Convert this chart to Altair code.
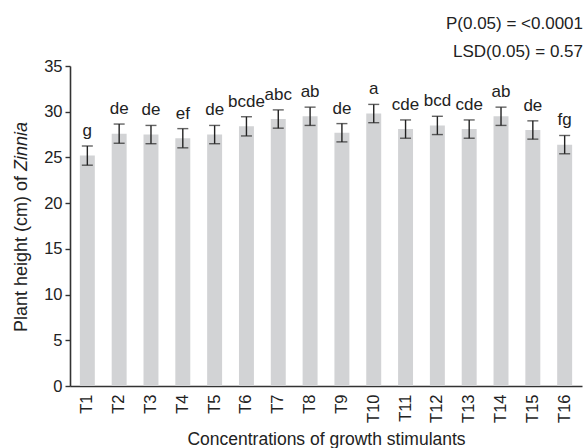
import altair as alt
import pandas as pd

treatments = [f"T{i}" for i in range(1, 17)]
means = [25.2, 27.6, 27.5, 27.1, 27.5, 28.4, 29.2, 29.5, 27.7, 29.8, 28.1, 28.5, 28.1, 29.5, 28.0, 26.4]
errors = [1.05, 1.05, 1.0, 1.05, 1.0, 1.05, 1.0, 1.0, 1.0, 1.0, 1.0, 1.0, 1.0, 1.0, 1.0, 1.0]
letters = ["g", "de", "de", "ef", "de", "bcde", "abc", "ab", "de", "a", "cde", "bcd", "cde", "ab", "de", "fg"]
y_ticks = [0, 5, 10, 15, 20, 25, 30, 35]

FONT = "Liberation Sans"
INK = "#222222"

df = pd.DataFrame({
    "t": treatments,
    "mean": means,
    "lo": [m - e for m, e in zip(means, errors)],
    "hi": [m + e for m, e in zip(means, errors)],
    "letter": letters,
})

x = alt.X("t:N", sort=treatments, title="Concentrations of growth stimulants",
          scale=alt.Scale(paddingInner=0.53, paddingOuter=0.31),
          axis=alt.Axis(labelAngle=-90, ticks=False, labelPadding=8, labelFontSize=16.5,
                        labelColor=INK, labelFont=FONT, titleFont=FONT, titleFontSize=17.5,
                        titleFontWeight="normal", titleColor=INK, titlePadding=8,
                        domainColor="#333", domainWidth=1.6, labelBaseline="middle", labelAlign="right"))
y = alt.Y("mean:Q", title=None,
          scale=alt.Scale(domain=[0, 35], nice=False),
          axis=alt.Axis(values=y_ticks, grid=False, tickSize=5, tickColor="#333", tickWidth=1.4,
                        domainColor="#333", domainWidth=1.6, labelFontSize=16.5, labelFont=FONT,
                        labelColor=INK, labelPadding=3))

base = alt.Chart(df)
bars = base.mark_bar(color="#d2d3d5").encode(x=x, y=y)
rules = base.mark_rule(color=INK, strokeWidth=1.4).encode(x=alt.X("t:N", sort=treatments), y="lo:Q", y2="hi:Q")
cap_lo = base.mark_tick(color=INK, thickness=1.4, size=11, orient="horizontal").encode(x=alt.X("t:N", sort=treatments), y="lo:Q")
cap_hi = base.mark_tick(color=INK, thickness=1.4, size=11, orient="horizontal").encode(x=alt.X("t:N", sort=treatments), y="hi:Q")
labels = base.mark_text(font=FONT, fontSize=17, color=INK, baseline="alphabetic", dy=-10).encode(
    x=alt.X("t:N", sort=treatments), y="hi:Q", text="letter:N")

ann = pd.DataFrame({"txt": ["P(0.05) = <0.0001", "LSD(0.05) = 0.57"], "row": [0, 1]})
ann1 = alt.Chart(ann).transform_filter("datum.row == 0").mark_text(
    font=FONT, fontSize=17, color=INK, align="right", baseline="alphabetic"
).encode(x=alt.value(513), y=alt.value(-37), text="txt:N")
ann2 = alt.Chart(ann).transform_filter("datum.row == 1").mark_text(
    font=FONT, fontSize=17, color=INK, align="right", baseline="alphabetic"
).encode(x=alt.value(513), y=alt.value(-9), text="txt:N")

yt = pd.DataFrame({"a": ["Plant height (cm) of "], "b": ["Zinnia"]})
yt1 = alt.Chart(yt).mark_text(font=FONT, fontSize=18, color=INK, align="left", baseline="middle", angle=270).encode(
    x=alt.value(-48), y=alt.value(266), text="a:N")
yt2 = alt.Chart(yt).mark_text(font=FONT, fontSize=18, color=INK, align="left", baseline="middle", angle=270,
                              fontStyle="italic").encode(
    x=alt.value(-48), y=alt.value(266 - 161), text="b:N")

chart = alt.layer(bars, rules, cap_lo, cap_hi, labels, ann1, ann2, yt1, yt2).properties(
    width=512, height=320,
    autosize=alt.AutoSizeParams(type="none"),
    padding={"left": 70, "top": 66, "right": 4, "bottom": 62},
    background="white",
).configure_view(stroke=None)

chart.save("out.html", embed_options={"renderer": "svg", "actions": False})
